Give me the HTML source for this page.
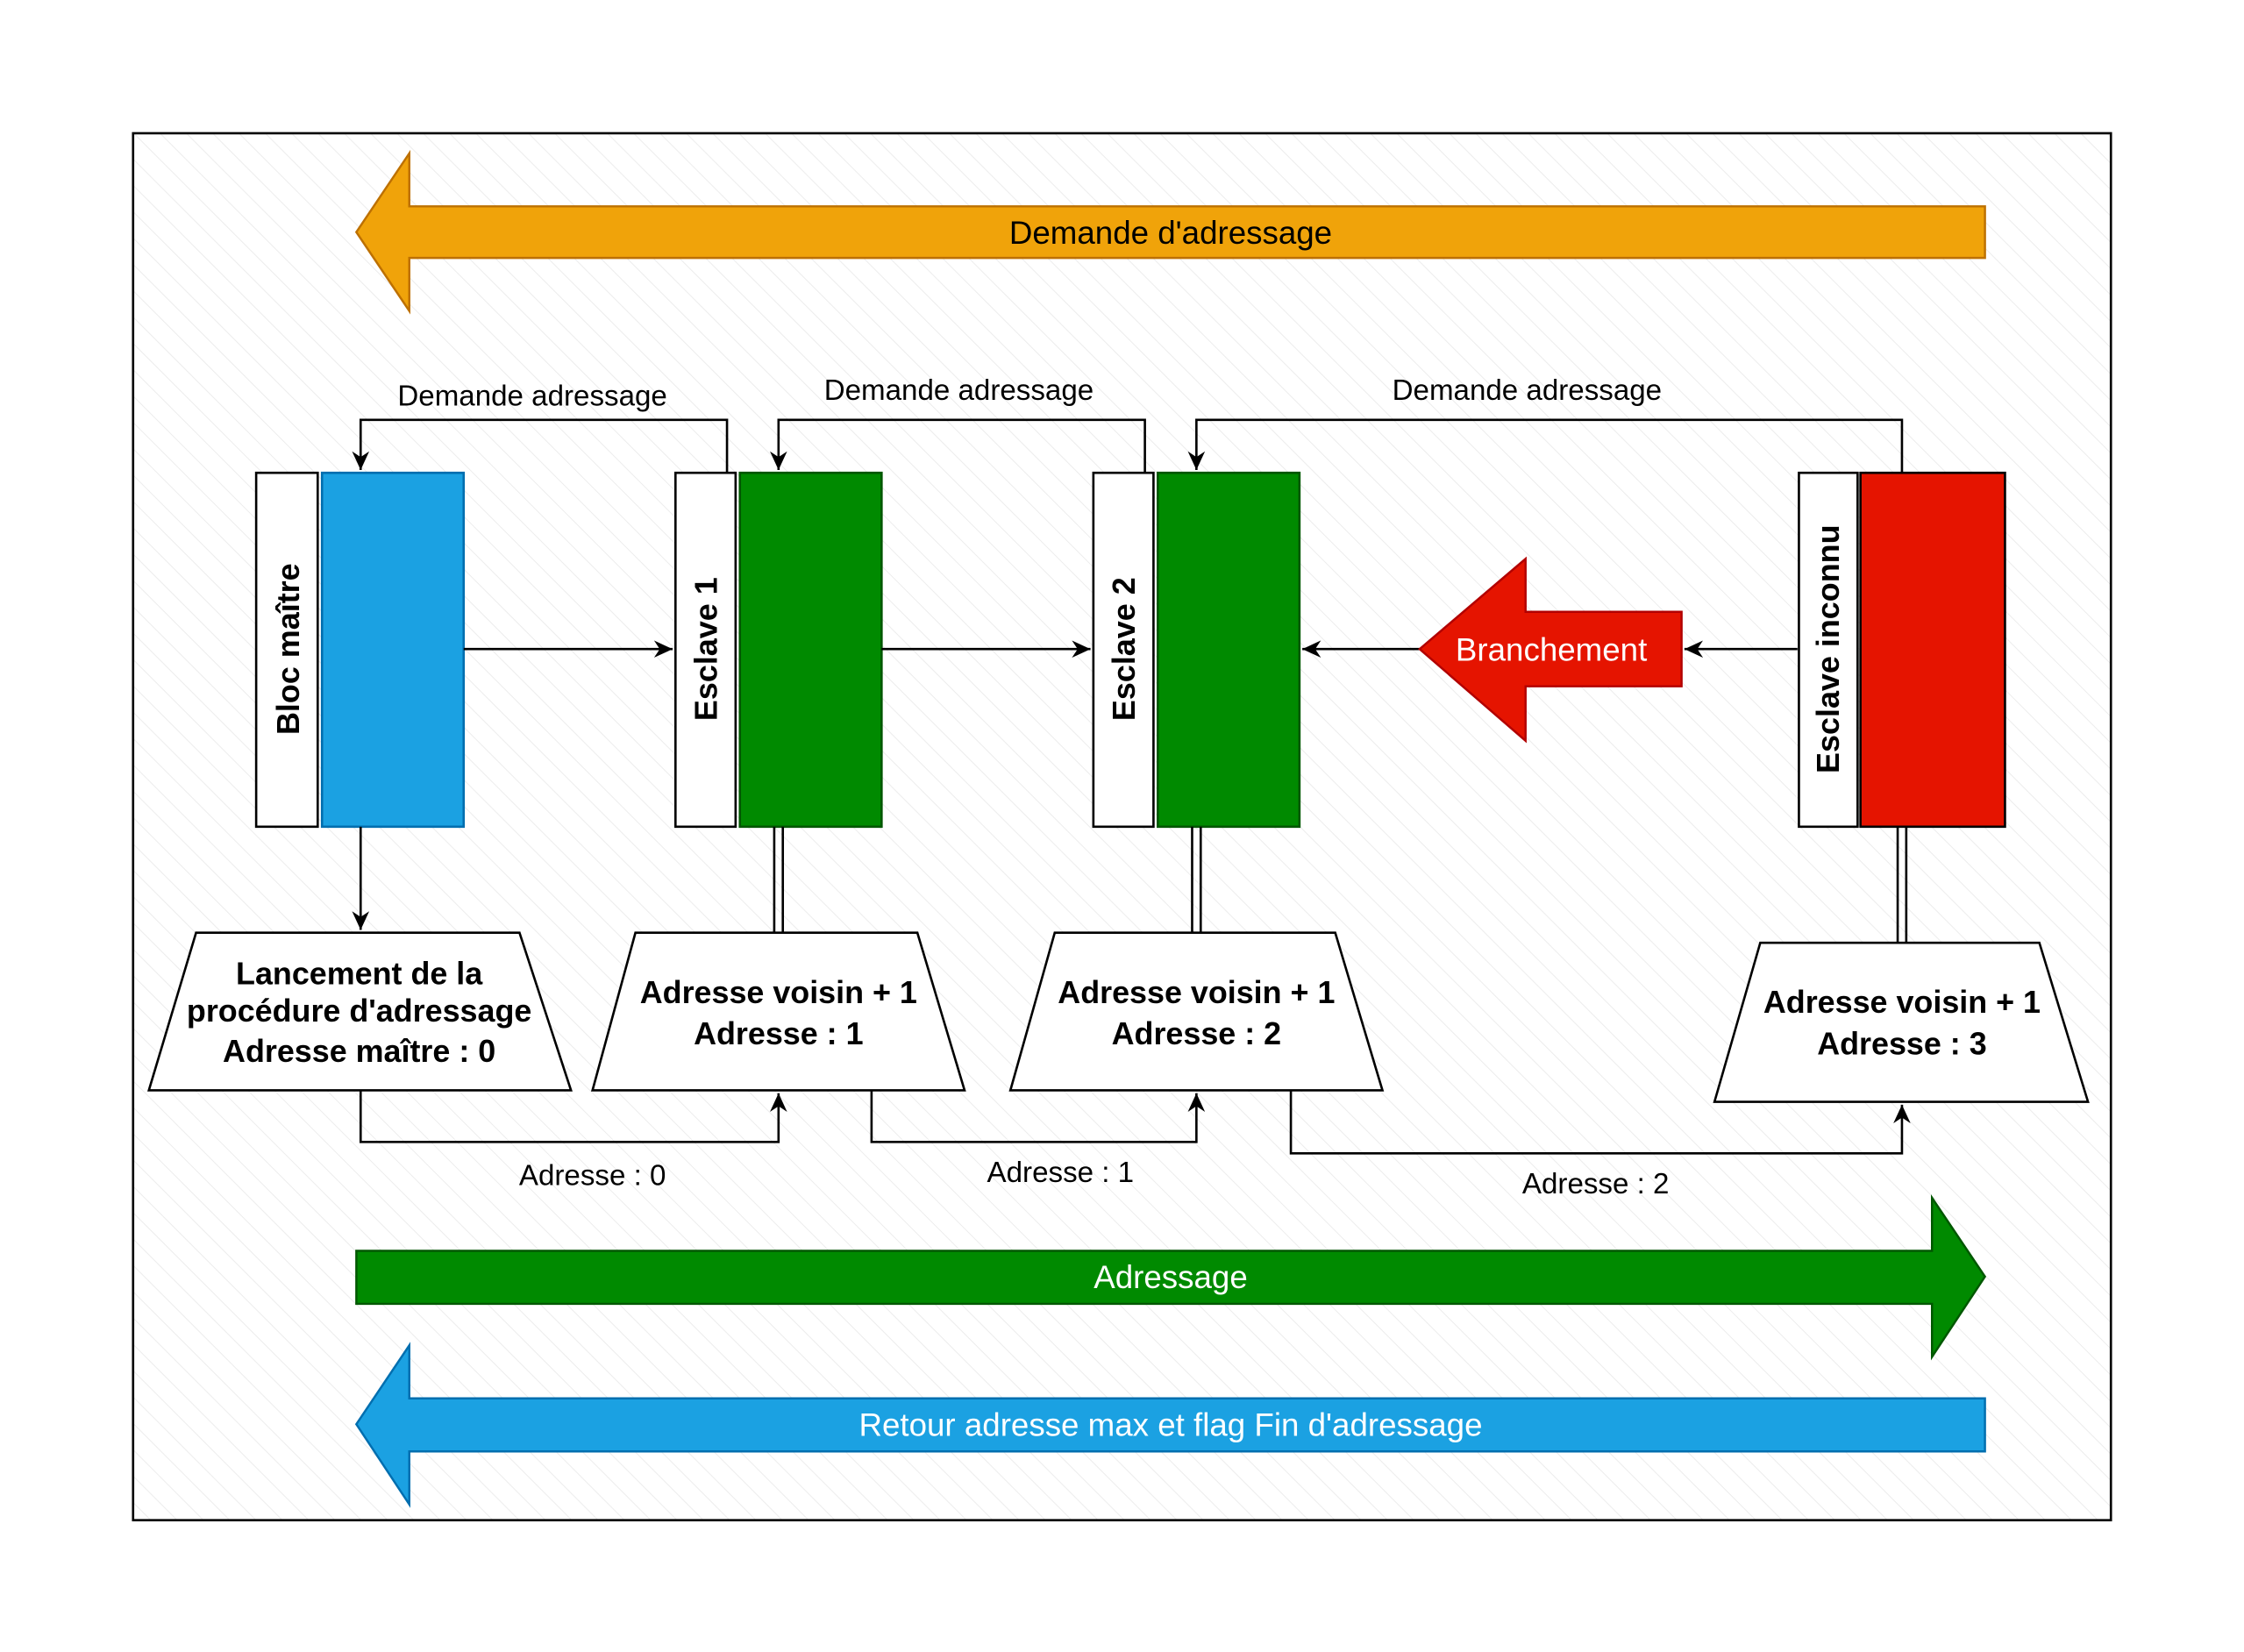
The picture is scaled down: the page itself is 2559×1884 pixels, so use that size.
<!DOCTYPE html>
<html><head><meta charset="utf-8"><style>html,body{margin:0;padding:0;background:#fff}svg{display:block}</style></head>
<body>
<svg width="2559" height="1884" viewBox="0 0 1568 1153" preserveAspectRatio="none" xmlns="http://www.w3.org/2000/svg" font-family="Liberation Sans, sans-serif">
<defs>
<pattern id="h" width="13" height="13" patternUnits="userSpaceOnUse" patternTransform="rotate(-45)">
<line x1="0" y1="0" x2="0" y2="13" stroke="#ececec" stroke-width="1.2"/>
</pattern>
<marker id="a" markerWidth="14" markerHeight="14" refX="13" refY="7" orient="auto" markerUnits="userSpaceOnUse">
<path d="M0,1 L13,7 L0,13 L4,7 z" fill="#000"/>
</marker>
</defs>
<rect x="93" y="93" width="1382" height="968" fill="#fff"/>
<rect x="93" y="93" width="1382" height="968" fill="url(#h)" stroke="#000" stroke-width="1.6"/>

<polygon points="249,162 286,107 286,144 1387,144 1387,180 286,180 286,217" fill="#f0a30a" stroke="#bd7000" stroke-width="1.5"/>
<text x="818" y="170" font-size="22.5" text-anchor="middle" fill="#000">Demande d'adressage</text>

<rect x="179" y="330" width="43" height="247" fill="#fff" stroke="#000" stroke-width="1.6"/>
<rect x="225" y="330" width="99" height="247" fill="#1ba1e2" stroke="#006eaf" stroke-width="1.6"/>
<text transform="translate(209,453) rotate(-90)" font-size="22" font-weight="bold" text-anchor="middle">Bloc maître</text>

<rect x="472" y="330" width="42" height="247" fill="#fff" stroke="#000" stroke-width="1.6"/>
<rect x="517" y="330" width="99" height="247" fill="#008a00" stroke="#005700" stroke-width="1.6"/>
<text transform="translate(501,453) rotate(-90)" font-size="22" font-weight="bold" text-anchor="middle">Esclave 1</text>

<rect x="764" y="330" width="42" height="247" fill="#fff" stroke="#000" stroke-width="1.6"/>
<rect x="809" y="330" width="99" height="247" fill="#008a00" stroke="#005700" stroke-width="1.6"/>
<text transform="translate(793,453) rotate(-90)" font-size="22" font-weight="bold" text-anchor="middle">Esclave 2</text>

<rect x="1257" y="330" width="41" height="247" fill="#fff" stroke="#000" stroke-width="1.6"/>
<rect x="1300" y="330" width="101" height="247" fill="#e51400" stroke="#000" stroke-width="1.6"/>
<text transform="translate(1285,453) rotate(-90)" font-size="22" font-weight="bold" text-anchor="middle">Esclave inconnu</text>

<g stroke="#000" stroke-width="1.6" fill="none">
<line x1="324" y1="453" x2="470" y2="453" marker-end="url(#a)"/>
<line x1="616" y1="453" x2="762" y2="453" marker-end="url(#a)"/>
<line x1="1256" y1="453" x2="1177" y2="453" marker-end="url(#a)"/>
<line x1="992" y1="453" x2="910" y2="453" marker-end="url(#a)"/>
<polyline points="508,330 508,293 252,293 252,328" marker-end="url(#a)"/>
<polyline points="800,330 800,293 544,293 544,328" marker-end="url(#a)"/>
<polyline points="1329,330 1329,293 836,293 836,328" marker-end="url(#a)"/>
<line x1="252" y1="577" x2="252" y2="649" marker-end="url(#a)"/>
<line x1="541" y1="577" x2="541" y2="651"/><line x1="547" y1="577" x2="547" y2="651"/>
<line x1="833" y1="577" x2="833" y2="651"/><line x1="839" y1="577" x2="839" y2="651"/>
<line x1="1326" y1="577" x2="1326" y2="658"/><line x1="1332" y1="577" x2="1332" y2="658"/>
<polyline points="252,761 252,797 544,797 544,763" marker-end="url(#a)"/>
<polyline points="609,761 609,797 836,797 836,763" marker-end="url(#a)"/>
<polyline points="902,761 902,805 1329,805 1329,771" marker-end="url(#a)"/>
</g>

<polygon points="992,453 1066,390 1066,427 1175,427 1175,479 1066,479 1066,517" fill="#e51400" stroke="#b20000" stroke-width="1.5"/>
<text x="1084" y="461" font-size="22.5" text-anchor="middle" fill="#fff">Branchement</text>

<g font-size="20.3" text-anchor="middle">
<text x="372" y="283">Demande adressage</text>
<text x="670" y="279">Demande adressage</text>
<text x="1067" y="279">Demande adressage</text>
<text x="414" y="827">Adresse : 0</text>
<text x="741" y="825">Adresse : 1</text>
<text x="1115" y="833">Adresse : 2</text>
</g>

<g fill="#fff" stroke="#000" stroke-width="1.6">
<polygon points="137,651 363,651 399,761 104,761"/>
<polygon points="444,651 641,651 674,761 414,761"/>
<polygon points="737,651 933,651 966,761 706,761"/>
<polygon points="1230,658 1425,658 1459,769 1198,769"/>
</g>
<g font-size="22" font-weight="bold" text-anchor="middle">
<text x="251" y="687">Lancement de la</text>
<text x="251" y="713">procédure d'adressage</text>
<text x="251" y="741">Adresse maître : 0</text>
<text x="544" y="700">Adresse voisin + 1</text>
<text x="544" y="729">Adresse : 1</text>
<text x="836" y="700">Adresse voisin + 1</text>
<text x="836" y="729">Adresse : 2</text>
<text x="1329" y="707">Adresse voisin + 1</text>
<text x="1329" y="736">Adresse : 3</text>
</g>

<polygon points="249,873 1350,873 1350,836 1387,891 1350,947 1350,910 249,910" fill="#008a00" stroke="#005700" stroke-width="1.5"/>
<text x="818" y="899" font-size="22.5" text-anchor="middle" fill="#fff">Adressage</text>

<polygon points="249,994 286,939 286,976 1387,976 1387,1013 286,1013 286,1050" fill="#1ba1e2" stroke="#006eaf" stroke-width="1.5"/>
<text x="818" y="1002" font-size="22.5" text-anchor="middle" fill="#fff">Retour adresse max et flag Fin d'adressage</text>
</svg>
</body></html>
